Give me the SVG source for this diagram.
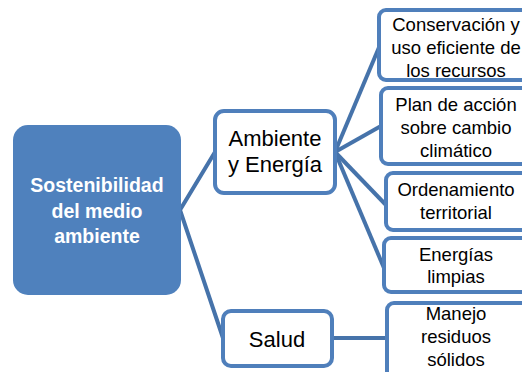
<svg xmlns="http://www.w3.org/2000/svg" width="522" height="372" viewBox="0 0 522 372">
<style>
.c{stroke:#4673aa;stroke-width:4;fill:none}
.b{fill:#fff;stroke:#4f7fbb;stroke-width:4}
.t{font-family:"Liberation Sans",Arial,sans-serif;fill:#000;text-anchor:middle}
.s{font-size:18.5px}
.m{font-size:22px}
.w{font-family:"Liberation Sans",Arial,sans-serif;font-weight:bold;font-size:19.5px;fill:#fff;text-anchor:middle}
</style>
<rect width="522" height="372" fill="#fff"/>
<g id="connectors">
<polyline class="c" points="215,152 180,210 223,338"/>
<line class="c" x1="335" y1="152" x2="380" y2="45"/>
<line class="c" x1="335" y1="152" x2="381" y2="126"/>
<line class="c" x1="335" y1="152" x2="386" y2="205"/>
<line class="c" x1="335" y1="152" x2="384" y2="268"/>
<line class="c" x1="332" y1="338" x2="388" y2="338"/>
</g>
<g id="root">
<rect x="13" y="125" width="168" height="170" rx="15" fill="#4f81bd"/>
<text class="w" x="97" y="192">Sostenibilidad</text>
<text class="w" x="97" y="218">del medio</text>
<text class="w" x="97" y="243">ambiente</text>
</g>
<g id="ambiente">
<rect class="b" x="215" y="111" width="120" height="82" rx="9"/>
<text class="t m" x="275" y="146">Ambiente</text>
<text class="t m" x="275" y="172">y Energía</text>
</g>
<g id="salud">
<rect class="b" x="223" y="311" width="109" height="55" rx="8"/>
<text class="t m" x="277" y="347">Salud</text>
</g>
<g id="conservacion">
<rect class="b" x="379" y="10" width="155" height="70" rx="7"/>
<text class="t s" x="456" y="31">Conservación y</text>
<text class="t s" x="456" y="54">uso eficiente de</text>
<text class="t s" x="456" y="77">los recursos</text>
</g>
<g id="plan">
<rect class="b" x="381" y="88" width="155" height="76" rx="7"/>
<text class="t s" x="456" y="111">Plan de acción</text>
<text class="t s" x="456" y="134">sobre cambio</text>
<text class="t s" x="456" y="157">climático</text>
</g>
<g id="ordenamiento">
<rect class="b" x="386" y="173" width="150" height="57" rx="7"/>
<text class="t s" x="456" y="196">Ordenamiento</text>
<text class="t s" x="456" y="219">territorial</text>
</g>
<g id="energias">
<rect class="b" x="384" y="238" width="152" height="54" rx="7"/>
<text class="t s" x="456" y="261">Energías</text>
<text class="t s" x="456" y="283">limpias</text>
</g>
<g id="manejo">
<rect class="b" x="387" y="303" width="150" height="80" rx="7"/>
<text class="t s" x="456" y="320">Manejo</text>
<text class="t s" x="456" y="343">residuos</text>
<text class="t s" x="456" y="366">sólidos</text>
</g>
</svg>
